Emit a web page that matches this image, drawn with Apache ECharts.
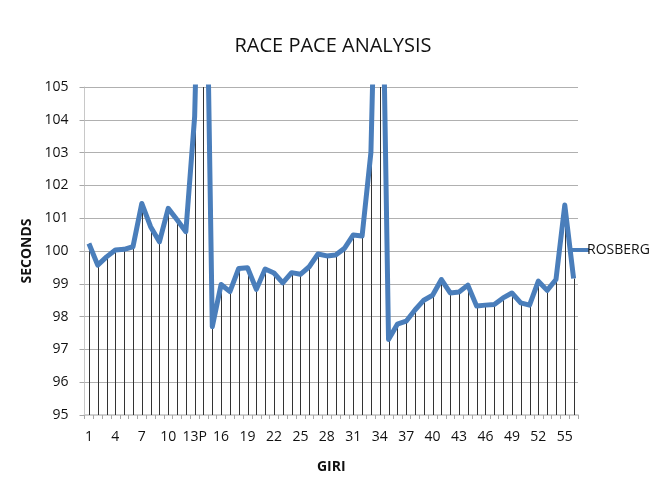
<!DOCTYPE html>
<html>
<head>
<meta charset="utf-8">
<script src="https://cdn.jsdelivr.net/npm/echarts@6/dist/echarts.min.js"></script>
<style>html,body{margin:0;padding:0;background:#fff}#c{width:666px;height:481px}</style>
</head>
<body>
<div id="c"></div>
<script>
var laps = ['1','2','3','4','5','6','7','8','9','10','11','12','13P','14','15','16','17','18','19','20',
  '21','22','23','24','25','26','27','28','29','30','31','32','33','34','35','36','37','38','39','40',
  '41','42','43','44','45','46','47','48','49','50','51','52','53','54','55','56'];
var rosberg = [100.23, 99.57, 99.82, 100.03, 100.05, 100.13, 101.45, 100.74, 100.28, 101.30,
  100.95, 100.59, 104.1, 115.0, 97.69, 98.98, 98.76, 99.47, 99.49, 98.83,
  99.45, 99.33, 99.03, 99.34, 99.29, 99.52, 99.91, 99.85, 99.88, 100.08,
  100.49, 100.46, 103.0, 114.0, 97.30, 97.77, 97.86, 98.20, 98.50, 98.65,
  99.13, 98.72, 98.75, 98.96, 98.32, 98.35, 98.37, 98.57, 98.72, 98.42,
  98.35, 99.08, 98.80, 99.13, 101.40, 99.16];
var seriesName = 'ROSBERG';
var titleText = 'RACE PACE ANALYSIS';
var xName = 'GIRI';
var yName = 'SECONDS';
var yMin = 95, yMax = 105, yStep = 1;

var FONT = '"Open Sans", Lato, sans-serif';
var chart = echarts.init(document.getElementById('c'), null, {renderer: 'canvas'});
chart.setOption({
  animation: false,
  backgroundColor: '#fff',
  title: {
    text: titleText, left: 'center', top: 31,
    textStyle: {fontFamily: FONT, fontSize: 20, fontWeight: 'normal', color: '#111'}
  },
  legend: {
    data: [seriesName], left: 566, top: 238, orient: 'vertical',
    icon: 'rect', itemWidth: 18, itemHeight: 4, itemGap: 4,
    textStyle: {fontFamily: FONT, fontSize: 14, color: '#111', padding: [0,0,0,-7]}
  },
  grid: {left: 84.5, right: 88, top: 87, bottom: 66, containLabel: false, outerBoundsMode: 'none'},
  xAxis: {
    type: 'category', data: laps, boundaryGap: true,
    name: xName, nameLocation: 'middle', nameGap: 45,
    nameTextStyle: {fontFamily: FONT, fontSize: 14, fontWeight: 'bold', color: '#111'},
    axisLine: {lineStyle: {color: '#d0d0d0', width: 2}},
    axisTick: {show: true, interval: 0, length: 4, lineStyle: {color: '#a8a8a8'}},
    axisLabel: {interval: 2, margin: 15, fontFamily: FONT, fontSize: 14, color: '#111'},
    splitLine: {show: false}
  },
  yAxis: {
    type: 'value', min: yMin, max: yMax, interval: yStep,
    name: yName, nameLocation: 'middle', nameGap: 47, nameRotate: 90,
    nameTextStyle: {fontFamily: FONT, fontSize: 14, fontWeight: 'bold', color: '#111'},
    axisLine: {show: true, lineStyle: {color: '#c8c8c8'}},
    axisTick: {show: true, length: 5, lineStyle: {color: '#a8a8a8'}},
    axisLabel: {margin: 16, fontFamily: FONT, fontSize: 14, color: '#111'},
    splitLine: {show: true, lineStyle: {color: '#b0b0b0', width: 1}}
  },
  series: [
    {
      type: 'custom', name: 'drop', clip: true, silent: true, z: 1,
      legendHoverLink: false,
      data: rosberg.map(function (v, i) { return [i, v]; }),
      encode: {x: 0, y: 1},
      renderItem: function (params, api) {
        var top = api.coord([api.value(0), api.value(1)]);
        var bot = api.coord([api.value(0), yMin]);
        var x = Math.round(top[0]) + 0.5;
        return {
          type: 'line',
          shape: {x1: x, y1: top[1], x2: x, y2: bot[1]},
          style: {stroke: '#333', lineWidth: 1}
        };
      }
    },
    {
      type: 'line', name: seriesName, data: rosberg, z: 3,
      showSymbol: false, symbol: 'none', smooth: false, clip: true,
      lineStyle: {color: '#4a7ebb', width: 5, join: 'round'},
      itemStyle: {color: '#4a7ebb'}
    }
  ]
});
</script>
</body>
</html>
